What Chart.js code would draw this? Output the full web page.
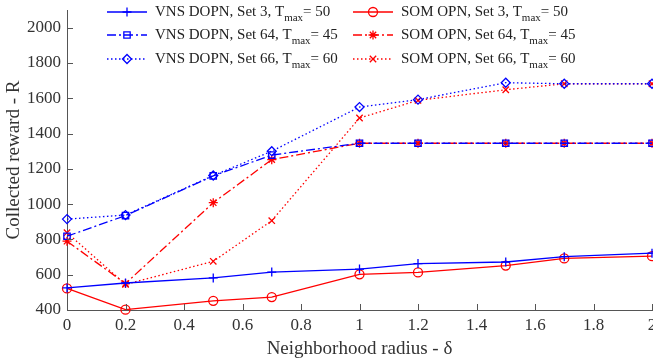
<!DOCTYPE html>
<html>
<head>
<meta charset="utf-8">
<script src="https://cdn.jsdelivr.net/npm/chart.js@4"></script>
<style>body{margin:0;background:#fff}</style>
</head>
<body>
<canvas id="myChart" width="653" height="360"></canvas>
<script>
// neighborhood radius values (x axis)
const radius = [0, 0.2, 0.5, 0.7, 1, 1.2, 1.5, 1.7, 2];

// collected reward per method / instance
const vnsSet3  = [525, 553, 582, 615, 632, 663, 672, 702, 722];
const vnsSet64 = [818, 935, 1160, 1278, 1345, 1345, 1345, 1345, 1345];
const vnsSet66 = [915, 938, 1162, 1300, 1550, 1592, 1688, 1682, 1682];
const somSet3  = [522, 402, 452, 473, 602, 613, 652, 692, 705];
const somSet64 = [790, 550, 1008, 1252, 1345, 1345, 1345, 1345, 1345];
const somSet66 = [838, 545, 676, 906, 1488, 1588, 1648, 1682, 1682];

const xTicks = [0, 0.2, 0.4, 0.6, 0.8, 1, 1.2, 1.4, 1.6, 1.8, 2];
const yTicks = [400, 600, 800, 1000, 1200, 1400, 1600, 1800, 2000];

const FONT = 'Liberation Serif';
Chart.defaults.font.family = FONT;
Chart.defaults.color = '#333';

const pts = arr => radius.map((r, i) => ({ x: r, y: arr[i] }));

const BLUE = '#0000ff';
const RED = '#ff0000';
const DASHDOT = [9, 3, 2, 3];
const DOT = [1.5, 2.5];
const noPad = () => ({ left: 0, top: 0, right: 0, bottom: 0 });

function series(label, tmax, arr, color, dash, style) {
  return {
    label: label,
    tmax: tmax,
    data: pts(arr),
    borderColor: color,
    borderWidth: 1.3,
    borderDash: dash,
    pointStyle: style,
    pointRadius: 4.5,
    pointBorderWidth: 1.3,
    pointBorderColor: color,
    pointBackgroundColor: 'rgba(0,0,0,0)',
    tension: 0,
    clip: false
  };
}

// legend drawn inside the plot, with T_max subscript
const innerLegend = {
  id: 'innerLegend',
  afterDraw(chart) {
    const { ctx } = chart;
    const cols = [107, 353];
    const rows = [12, 35, 59];
    chart.data.datasets.forEach((ds, i) => {
      const col = i < 3 ? 0 : 1;
      const row = i % 3;
      const x0 = cols[col], y = rows[row];
      ctx.save();
      ctx.strokeStyle = ds.borderColor;
      ctx.lineWidth = ds.borderWidth;
      ctx.setLineDash(ds.borderDash);
      ctx.beginPath();
      ctx.moveTo(x0, y);
      ctx.lineTo(x0 + 40, y);
      ctx.stroke();
      ctx.setLineDash([]);
      ctx.lineWidth = ds.pointBorderWidth;
      ctx.fillStyle = 'rgba(0,0,0,0)';
      Chart.helpers.drawPoint(ctx, { pointStyle: ds.pointStyle, radius: 4.5, borderWidth: ds.pointBorderWidth, rotation: 0 }, x0 + 20, y);
      ctx.fillStyle = '#222';
      ctx.textBaseline = 'middle';
      ctx.font = '15px ' + FONT;
      let tx = x0 + 48;
      const main = ds.label + ', T';
      ctx.fillText(main, tx, y);
      tx += ctx.measureText(main).width;
      ctx.font = '11px ' + FONT;
      ctx.fillText('max', tx, y + 6);
      tx += ctx.measureText('max').width;
      ctx.font = '15px ' + FONT;
      ctx.fillText('= ' + ds.tmax, tx, y);
      ctx.restore();
    });
  }
};

// inward tick marks like the original figure
const inwardTicks = {
  id: 'inwardTicks',
  afterDraw(chart) {
    const { ctx, chartArea: { left, bottom } } = chart;
    const xs = chart.scales.x, ys = chart.scales.y;
    ctx.save();
    ctx.strokeStyle = '#555';
    ctx.lineWidth = 1;
    ctx.beginPath();
    xs.ticks.forEach(t => {
      const px = Math.round(xs.getPixelForValue(t.value)) + 0.5;
      ctx.moveTo(px, bottom);
      ctx.lineTo(px, bottom - 6);
    });
    ys.ticks.forEach(t => {
      const py = Math.round(ys.getPixelForValue(t.value)) + 0.5;
      ctx.moveTo(left, py);
      ctx.lineTo(left + 6, py);
    });
    ctx.stroke();
    ctx.restore();
  }
};

new Chart(document.getElementById('myChart'), {
  type: 'line',
  data: {
    datasets: [
      series('VNS DOPN, Set 3', 50, vnsSet3, BLUE, [], 'cross'),
      series('VNS DOPN, Set 64', 45, vnsSet64, BLUE, DASHDOT, 'rect'),
      series('VNS DOPN, Set 66', 60, vnsSet66, BLUE, DOT, 'rectRot'),
      series('SOM OPN, Set 3', 50, somSet3, RED, [], 'circle'),
      series('SOM OPN, Set 64', 45, somSet64, RED, DASHDOT, 'star'),
      series('SOM OPN, Set 66', 60, somSet66, RED, DOT, 'crossRot')
    ]
  },
  options: {
    responsive: false,
    animation: false,
    layout: { autoPadding: false, padding: { top: 10, right: 1, left: 0, bottom: 0 } },
    plugins: {
      legend: { display: false },
      tooltip: { enabled: false }
    },
    scales: {
      x: {
        type: 'linear',
        min: 0,
        max: 2,
        afterBuildTicks: s => { s.ticks = xTicks.map(v => ({ value: v })); },
        afterFit: s => {
          s.height = 50;
          s.paddingLeft = 0; s.paddingRight = 0;
          s.getPadding = noPad;
        },
        ticks: {
          font: { size: 17 },
          padding: 5,
          maxRotation: 0,
          callback: v => String(+v.toFixed(1))
        },
        grid: { drawOnChartArea: false, drawTicks: false },
        border: { color: '#555' },
        title: {
          display: true,
          text: 'Neighborhood radius - δ',
          font: { size: 19 },
          padding: { top: 3, bottom: 0 }
        }
      },
      y: {
        min: 400,
        max: 2100,
        afterBuildTicks: s => { s.ticks = yTicks.map(v => ({ value: v })); },
        afterFit: s => {
          s.width = 67;
          s.paddingTop = 0; s.paddingBottom = 0;
          s.getPadding = noPad;
        },
        ticks: {
          font: { size: 17 },
          padding: 6,
          callback: v => String(v)
        },
        grid: { drawOnChartArea: false, drawTicks: false },
        border: { color: '#555' },
        title: {
          display: true,
          text: 'Collected reward - R',
          font: { size: 19 },
          padding: { top: 3, bottom: 0 }
        }
      }
    }
  },
  plugins: [innerLegend, inwardTicks]
});
</script>
</body>
</html>
